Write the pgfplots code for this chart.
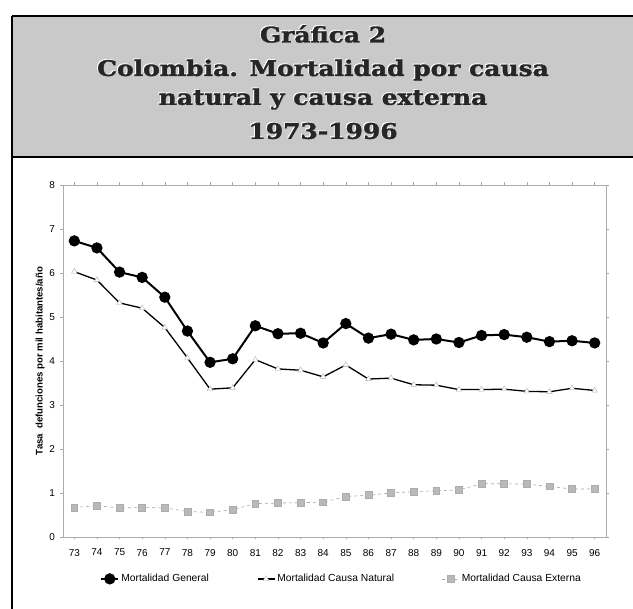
\documentclass[border=0pt]{standalone}
\usepackage{pgfplots}
\pgfplotsset{compat=1.18}
\usepackage{fontspec}
\setmainfont{Liberation Sans}
\newfontfamily\titlefont[BoldFeatures={FakeBold=1.6}]{DejaVu Serif}
\begin{document}
\begin{tikzpicture}[x=1pt,y=1pt]
\path[use as bounding box] (0,0) rectangle (633,609);
% title box
\fill[gray!42] (12,452) rectangle (633,593);
\draw[line width=2.2pt] (12,593) -- (633,593);
\draw[line width=2.2pt] (633,452) -- (12,452) -- (12,593);
\draw[line width=2.2pt] (12,452) -- (12,0);
\foreach \yy/\txt in {575/{Gráfica 2}, 539/{Colombia. Mortalidad por causa}, 510/{natural y causa externa}, 478/{1973-1996}}{
  \node[white, xscale=1.16] at (322,\yy+0.9) {\titlefont\bfseries\fontsize{21.5}{24}\selectfont \txt};
  \node[black!85, xscale=1.16] at (323,\yy) {\titlefont\bfseries\fontsize{21.5}{24}\selectfont \txt};
}
\begin{axis}[
  at={(63pt,72pt)}, anchor=south west, scale only axis,
  width=543pt, height=352pt,
  xmin=72.5, xmax=96.5, ymin=0, ymax=8,
  xtick={73,...,96}, ytick={0,...,8},
  tick label style={font=\fontsize{10}{11}\selectfont},
  /pgf/number format/assume math mode=true,
  axis line style={gray!65, line width=0.6pt},
  tick style={gray!70, line width=0.5pt},
  tick align=outside, major tick length=2.5pt,
  xticklabel style={yshift=-6pt},
  yticklabel style={xshift=-2pt},
  ylabel={\bfseries Tasa\ \ defunciones por mil habitantes/año},
  ylabel style={font=\fontsize{9.6}{11}\selectfont, at={(axis description cs:-0.042,0.5)}, anchor=center},
  legend style={draw=none, fill=none, at={(0.513,-0.119)}, anchor=center,
    font=\fontsize{10.3}{11}\selectfont, /tikz/every even column/.append style={column sep=46pt}},
  legend columns=3,
  legend cell align=left,
]
\addplot[black, line width=2pt, mark=*, mark size=4.6pt, mark options={solid, fill=black}] coordinates {
(73,6.73)(74,6.57)(75,6.02)(76,5.90)(77,5.45)(78,4.68)(79,3.97)(80,4.05)(81,4.80)(82,4.62)(83,4.63)(84,4.41)
(85,4.85)(86,4.52)(87,4.61)(88,4.48)(89,4.50)(90,4.42)(91,4.58)(92,4.60)(93,4.54)(94,4.44)(95,4.46)(96,4.41)};
\addlegendentry{Mortalidad General}
\addplot[black, line width=1.3pt, mark=triangle*, mark size=3.2pt, mark options={solid, fill=white, draw=gray!60, line width=0.4pt}] coordinates {
(73,6.03)(74,5.84)(75,5.32)(76,5.20)(77,4.76)(78,4.07)(79,3.36)(80,3.39)(81,4.03)(82,3.82)(83,3.79)(84,3.64)
(85,3.91)(86,3.59)(87,3.61)(88,3.46)(89,3.45)(90,3.35)(91,3.35)(92,3.36)(93,3.31)(94,3.30)(95,3.38)(96,3.33)};
\addlegendentry{Mortalidad Causa Natural}
\addplot[gray!70, line width=0.6pt, dashed, mark=square*, mark size=3.4pt, mark options={solid, fill=gray!55, draw=gray!65}] coordinates {
(73,0.67)(74,0.71)(75,0.66)(76,0.67)(77,0.66)(78,0.58)(79,0.56)(80,0.62)(81,0.76)(82,0.77)(83,0.78)(84,0.79)
(85,0.92)(86,0.95)(87,1.00)(88,1.03)(89,1.05)(90,1.07)(91,1.21)(92,1.21)(93,1.20)(94,1.15)(95,1.09)(96,1.09)};
\addlegendentry{Mortalidad Causa Externa}
\end{axis}
\end{tikzpicture}
\end{document}
